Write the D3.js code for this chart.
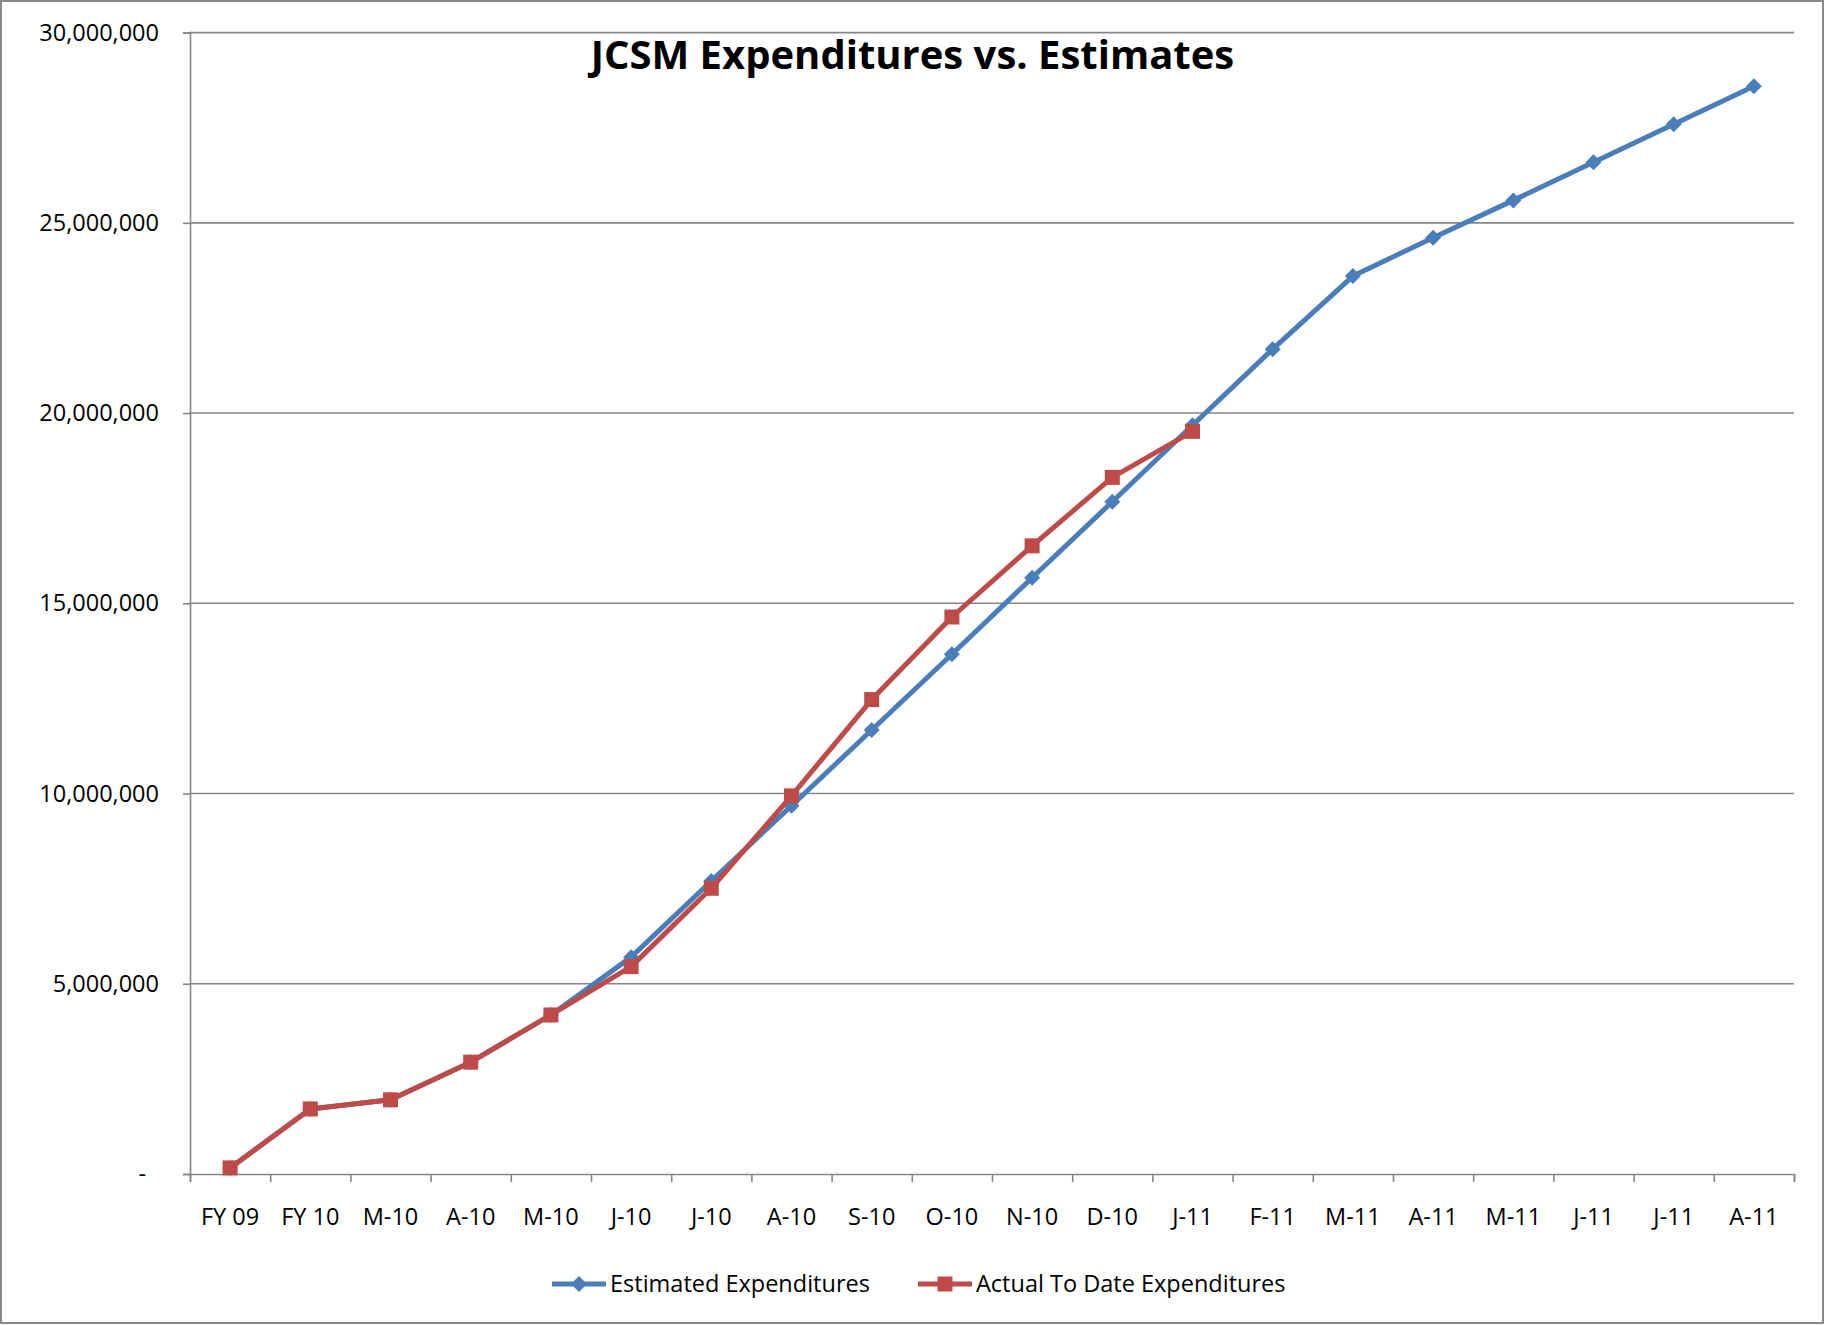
<!DOCTYPE html>
<html>
<head>
<meta charset="utf-8">
<script src="https://cdn.jsdelivr.net/npm/d3@7"></script>
<style>
  body { margin: 0; background: #fff; }
  text { font-family: "Open Sans", sans-serif; fill: #000; }
</style>
</head>
<body>
<div id="chart"></div>
<script>
// categories along the bottom (labels repeat, so the scale uses indexes)
var categories = ["FY 09", "FY 10", "M-10", "A-10", "M-10", "J-10", "J-10", "A-10", "S-10", "O-10",
  "N-10", "D-10", "J-11", "F-11", "M-11", "A-11", "M-11", "J-11", "J-11", "A-11"];

// cumulative dollars
var estimated = [160000, 1710000, 1950000, 2940000, 4180000, 5700000, 7700000, 9680000, 11670000, 13660000,
  15670000, 17670000, 19680000, 21680000, 23600000, 24610000, 25590000, 26590000, 27590000, 28590000];
var actual = [160000, 1710000, 1950000, 2940000, 4180000, 5450000, 7510000, 9940000, 12470000, 14640000,
  16510000, 18310000, 19520000];

var yTicks = [0, 5000000, 10000000, 15000000, 20000000, 25000000, 30000000];

var seriesNames = ["Estimated Expenditures", "Actual To Date Expenditures"];
var blue = "#4a7ebb", red = "#be4b48", grey = "#868686";

var width = 1825, height = 1325;
var margin = {top: 32.6, right: 31, bottom: 151, left: 190};

var svg = d3.select("#chart").append("svg")
  .attr("width", width)
  .attr("height", height);

svg.append("rect")
  .attr("x", 1).attr("y", 1)
  .attr("width", width - 3).attr("height", height - 3)
  .attr("fill", "#fff")
  .attr("stroke", "#898989")
  .attr("stroke-width", 2);

var x = d3.scaleBand()
  .domain(d3.range(categories.length))
  .range([margin.left, width - margin.right]);

// same span as x, used for the ticks between categories
var xEdge = d3.scaleLinear()
  .domain([0, categories.length])
  .range([margin.left, width - margin.right]);

var y = d3.scaleLinear()
  .domain([0, 30000000])
  .range([height - margin.bottom, margin.top]);

// gridlines
svg.append("g")
  .selectAll("line")
  .data(yTicks.slice(1))
  .enter().append("line")
  .attr("x1", margin.left).attr("x2", width - margin.right)
  .attr("y1", function(d) { return y(d); })
  .attr("y2", function(d) { return y(d); })
  .attr("stroke", grey)
  .attr("stroke-width", 1.6);

// y axis
var yAxis = svg.append("g")
  .attr("transform", "translate(" + margin.left + ",0)")
  .call(d3.axisLeft(y)
    .tickValues(yTicks)
    .tickSize(7)
    .tickPadding(24)
    .tickFormat(function(d) { return d === 0 ? "-" : d3.format(",")(d); }));
yAxis.selectAll("text")
  .style("font-size", "23.5px")
  .attr("dx", function(d) { return d === 0 ? -13 : 0; });

// x axis: ticks on category edges, labels in the middle
var xTickAxis = svg.append("g")
  .attr("transform", "translate(0," + y(0) + ")")
  .call(d3.axisBottom(xEdge)
    .tickValues(d3.range(categories.length + 1))
    .tickSize(8)
    .tickFormat(""));

var xLabelAxis = svg.append("g")
  .attr("transform", "translate(0," + y(0) + ")")
  .call(d3.axisBottom(x)
    .tickSize(0)
    .tickPadding(34)
    .tickFormat(function(i) { return categories[i]; }));
xLabelAxis.select(".domain").remove();
xLabelAxis.selectAll("text").style("font-size", "23.5px");

svg.selectAll(".domain, .tick line")
  .attr("stroke", grey)
  .attr("stroke-width", 1.6);

// title
svg.append("text")
  .attr("x", width / 2)
  .attr("y", 69)
  .attr("text-anchor", "middle")
  .style("font-size", "40px")
  .style("font-weight", "bold")
  .text("JCSM Expenditures vs. Estimates");

var cx = function(d, i) { return x(i) + x.bandwidth() / 2; };

var line = d3.line()
  .x(cx)
  .y(function(d) { return y(d); });

function diamond(r) {
  return "M0," + (-r) + "L" + r + ",0L0," + r + "L" + (-r) + ",0Z";
}
var square = d3.symbol(d3.symbolSquare, 225)();

// estimated series
svg.append("path")
  .datum(estimated)
  .attr("fill", "none")
  .attr("stroke", blue)
  .attr("stroke-width", 5)
  .attr("stroke-linejoin", "round")
  .attr("d", line);

svg.append("g")
  .selectAll("path")
  .data(estimated)
  .enter().append("path")
  .attr("transform", function(d, i) { return "translate(" + cx(d, i) + "," + y(d) + ")"; })
  .attr("d", diamond(8))
  .attr("fill", blue);

// actual series
svg.append("path")
  .datum(actual)
  .attr("fill", "none")
  .attr("stroke", red)
  .attr("stroke-width", 5)
  .attr("stroke-linejoin", "round")
  .attr("d", line);

svg.append("g")
  .selectAll("path")
  .data(actual)
  .enter().append("path")
  .attr("transform", function(d, i) { return "translate(" + cx(d, i) + "," + y(d) + ")"; })
  .attr("d", square)
  .attr("fill", red);

// legend
var legendY = 1284;
var legendItems = [
  {name: seriesNames[0], color: blue, x: 552, mark: diamond(8)},
  {name: seriesNames[1], color: red, x: 918, mark: square}
];

var legend = svg.append("g")
  .selectAll("g")
  .data(legendItems)
  .enter().append("g")
  .attr("transform", function(d) { return "translate(" + d.x + "," + legendY + ")"; });

legend.append("line")
  .attr("x1", 0).attr("x2", 54)
  .attr("stroke", function(d) { return d.color; })
  .attr("stroke-width", 5);

legend.append("path")
  .attr("transform", "translate(27,0)")
  .attr("d", function(d) { return d.mark; })
  .attr("fill", function(d) { return d.color; });

legend.append("text")
  .attr("x", 58)
  .attr("dy", "0.35em")
  .style("font-size", "23.5px")
  .text(function(d) { return d.name; });
</script>
</body>
</html>
